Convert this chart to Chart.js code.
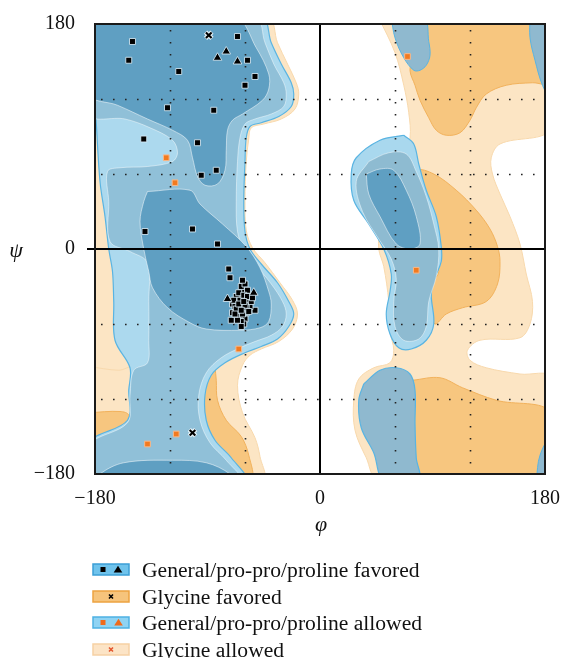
<!DOCTYPE html>
<html><head><meta charset="utf-8">
<script src="https://cdn.jsdelivr.net/npm/chart.js@4.4.1/dist/chart.umd.min.js"></script>
<style>
html,body{margin:0;padding:0;background:#fff;}
#wrap{position:relative;width:565px;height:658px;overflow:hidden;font-family:'Liberation Serif','Times New Roman',serif;color:#111;}
#c{position:absolute;left:0;top:0;}
.axt{position:absolute;font-style:italic;font-size:22px;line-height:1;transform:translate(-50%,-50%);}
.lg{position:absolute;left:0;width:565px;height:26px;}
.lg svg{position:absolute;left:92px;top:6px;}
.lg span{position:absolute;left:142px;top:0;font-size:21.6px;line-height:26px;white-space:nowrap;}
</style></head>
<body>
<div id="wrap">
<canvas id="c" width="565" height="658"></canvas>
<div class="axt" style="left:16px;top:250px;">ψ</div>
<div class="axt" style="left:321px;top:524px;">φ</div>
<div id="legend"></div>
</div>
<script>
// ---------- axes ----------
const axisTicks = [-180, 0, 180];
const dottedGrid = [-120, -60, 60, 120];
const legendLabels = ['General/pro-pro/proline favored', 'Glycine favored', 'General/pro-pro/proline allowed', 'Glycine allowed'];

// ---------- region outlines (phi, psi) ----------
const glyAllowedRight = [[47,185],[60,157],[67,131],[71,109],[72,89],[67,77],[55,46],[48,18],[47,0],[51,-14],[55,-42],[56,-66],[59,-81],[56,-91],[43,-95],[31,-104],[27,-121],[28,-145],[37,-167],[47,-185],[185,-185],[185,-103],[160,-100],[133,-95],[120,-89],[118,-81],[128,-73],[160,-71],[168,-60],[170,-42],[165,-20],[160,4],[152,26],[144,44],[138,60],[137,73],[144,84],[185,97],[185,185]];
const glyAllowedLeft = [[-185,185],[-42,185],[-34,165],[-26,148],[-19,133],[-17,124],[-20,112],[-31,104],[-45,100],[-55,97],[-57,88],[-59,70],[-60,38],[-59,15],[-54,1],[-44,-11],[-32,-27],[-22,-41],[-18,-52],[-22,-64],[-33,-74],[-47,-80],[-56,-85],[-62,-93],[-66,-109],[-62,-131],[-52,-151],[-48,-166],[-46,-185],[-185,-185]];
const glyAllowedLeftEdge = [[-185,-94],[-161,-97],[-150,-95],[-149,-117],[-152,-137],[-185,-141]];
const glyFavoredTopRight = [[83,185],[185,185],[185,133],[170,133],[149,131],[133,124],[125,113],[120,103],[112,93],[101,91],[93,95],[87,105],[80,119],[76,131],[72,143],[75,157],[79,169]];
const glyFavoredMidRight = [[72,50],[77,63],[91,60],[109,47],[125,31],[136,16],[142,2],[144,-10],[142,-28],[133,-42],[114,-47],[101,-52],[92,-60],[88,-47],[89,-28],[95,-18],[87,6],[79,30]];
const glyFavoredBottomRight = [[74,-105],[96,-103],[114,-111],[141,-121],[185,-131],[185,-185],[74,-185],[73,-150]];
const glyFavoredLeftLow = [[-84,-94],[-83,-105],[-82,-121],[-75,-137],[-63,-150],[-57,-165],[-55,-185],[-80,-185],[-82,-165],[-90,-145],[-93,-121],[-90,-104]];
const glyFavoredLeftEdge = [[-185,-131],[-160,-130],[-153,-133],[-153,-153],[-185,-157]];

const genAllowedOuterLeft = [[-185,185],[-47,185],[-39,165],[-31,148],[-23,133],[-21,124],[-23,114],[-33,106],[-47,101],[-56,98],[-59,89],[-60,70],[-61,38],[-60,14],[-56,0],[-47,-12],[-34,-27],[-25,-42],[-21,-52],[-25,-62],[-34,-72],[-47,-78],[-60,-83],[-76,-91],[-87,-101],[-92,-117],[-91,-137],[-84,-153],[-71,-167],[-60,-185],[-185,-185],[-185,-155],[-154,-137],[-153,-113],[-152,-95],[-164,-73],[-165,-42],[-166,-18],[-169,0],[-172,26],[-176,54],[-179,101],[-182,149]];
const genAllowedInnerLeft = [[-185,185],[-52,185],[-44,165],[-37,148],[-29,133],[-27,124],[-29,114],[-39,108],[-52,104],[-60,100],[-64,89],[-66,70],[-67,38],[-66,14],[-61,0],[-52,-12],[-39,-28],[-30,-42],[-27,-52],[-30,-62],[-39,-69],[-52,-74],[-64,-79],[-79,-87],[-91,-99],[-97,-117],[-96,-137],[-88,-155],[-75,-169],[-64,-185],[-185,-185],[-185,-157],[-154,-139],[-152,-117],[-149,-97],[-138,-91],[-137,-73],[-137,-42],[-138,-11],[-152,-2],[-168,6],[-169,38],[-170,62],[-160,65],[-138,66],[-118,70],[-114,77],[-118,87],[-136,97],[-156,104],[-185,108]];
const genFavoredTopLeft = [[-185,185],[-68,185],[-51,161],[-41,140],[-41,128],[-46,119],[-62,108],[-70,103],[-74,95],[-75,79],[-76,63],[-82,52],[-92,51],[-98,58],[-102,73],[-106,87],[-118,95],[-138,104],[-162,115],[-185,124]];
const genFavoredBottomLeft = [[-176,-185],[-176,-180],[-157,-171],[-118,-169],[-91,-171],[-72,-180],[-72,-185]];
const genFavoredAlphaLeft = [[-138,46],[-104,47],[-96,36],[-78,20],[-59,2],[-48,-15],[-41,-34],[-39,-44],[-41,-58],[-48,-63],[-64,-65],[-91,-64],[-104,-59],[-122,-47],[-134,-31],[-137,-18],[-141,0],[-144,22],[-141,38]];

const genAllowedEdgeRightTop = [[168,185],[168,169],[172,151],[178,131],[185,120],[190,150],[190,185]];
const genAllowedEdgeRightBottom = [[173,-185],[176,-165],[185,-150],[190,-170],[190,-185]];
const genAllowedRightTop = [[57,185],[83,185],[87,166],[88,155],[85,147],[80,143],[75,143],[67,153],[60,169]];
const genAllowedRightBottom = [[35,-108],[48,-97],[61,-95],[72,-100],[76,-113],[76,-140],[77,-167],[79,-185],[51,-185],[43,-163],[33,-143],[31,-121]];
const genAllowedRightMid = [[67,91],[75,84],[79,68],[85,47],[93,26],[97,2],[97,-10],[92,-23],[89,-36],[91,-60],[85,-73],[73,-80],[63,-79],[56,-68],[53,-52],[56,-34],[57,-20],[51,0],[39,20],[27,39],[25,60],[29,73],[48,87]];
const genAllowedRightMidInner = [[39,70],[55,77],[69,76],[77,62],[85,42],[91,20],[95,0],[93,-22],[87,-42],[85,-62],[79,-72],[67,-73],[60,-62],[59,-42],[61,-24],[57,-8],[47,8],[34,30],[29,54]];
const genFavoredRightMid = [[37,60],[48,64],[59,63],[69,47],[77,26],[80,4],[72,0],[61,4],[48,26],[39,44]];

// ---------- residues (phi, psi) ----------
const favoredSquares = [[-150,166],[-153,151],[-113,142],[-66,170],[-58,151],[-52,138],[-60,131],[-122,113],[-85,111],[-141,88],[-98,85],[-95,59],[-83,63],[-140,14],[-102,16],[-82,4],
  [-73,-16],[-72,-23],[-70,-44],[-70,-51],[-67,-56],[-52,-49],[-71,-57],
  [-62,-44],[-60,-40],[-64,-46],[-58,-42],[-63,-38],[-66,-42],[-61,-48],[-59,-51],[-65,-50],[-62,-34],[-57,-37],[-68,-46],[-64,-54],[-60,-56],[-56,-46],[-67,-38],[-63,-30],[-60,-28],[-58,-33],[-65,-35],[-69,-41],[-61,-60],[-63,-58],[-66,-57],[-55,-42],[-62,-52],[-59,-47],[-64,-41],[-61,-37],[-67,-48],[-57,-50],[-63,-62],[-60,-45],[-65,-44],[-58,-38],[-62,-25],[-54,-39],[-68,-52],[-61,-42],[-63,-49]];
const favoredTriangles = [[-75,158],[-82,153],[-66,150],[-53,-35],[-74,-40]];
const glycineFavoredX = [[-89,171],[-102,-147]];
const allowedSquares = [[-123,73],[-116,53],[-65,-80],[-115,-148],[-138,-156],[70,154],[77,-17]];

// ---------- build ----------
const toXY = pts => pts.concat([pts[0]]).map(p => ({x: p[0], y: p[1]}));
let ord = 100;
function region(pts, fillColor, lineColor, lineWidth, extra) {
  return Object.assign({
    data: toXY(pts), showLine: true, fill: 'shape',
    backgroundColor: fillColor, borderColor: lineColor, borderWidth: lineWidth,
    pointRadius: 0, pointHoverRadius: 0, tension: 0.35, order: ord--
  }, extra || {});
}
function marks(pts, style, radius, bg, border, bw, order) {
  return { data: pts.map(p => ({x: p[0], y: p[1]})), showLine: false, pointStyle: style,
    pointRadius: radius, pointHoverRadius: radius, backgroundColor: bg, borderColor: border,
    pointBorderWidth: bw, borderWidth: bw, order: order };
}
const LO = '#fce5c4', OR = '#f7c67f';
const BG = '#8fb9cf', EDGE = '#5ab4e2';
const datasets = [
  region(glyAllowedRight, LO, '#f8d9ad', 1),
  region(glyAllowedLeft, LO, '#f8d9ad', 1),
  region(glyAllowedLeftEdge, LO, '#f8d9ad', 1),
  region(glyFavoredTopRight, OR, '#f2b25c', 1),
  region(glyFavoredMidRight, OR, '#f2b25c', 1),
  region(glyFavoredBottomRight, OR, '#f2b25c', 1),
  region(glyFavoredLeftLow, OR, '#f2b25c', 1),
  region(glyFavoredLeftEdge, OR, '#f2b25c', 1),
  region(genAllowedOuterLeft, '#acd9ee', EDGE, 1.2),
  region(genAllowedInnerLeft, '#90c0d8', 'rgba(255,255,255,0.45)', 1),
  region(genFavoredTopLeft, '#5f9fc2', 'rgba(255,255,255,0.5)', 1),
  region(genFavoredBottomLeft, '#5f9fc2', 'rgba(255,255,255,0.5)', 1),
  region(genFavoredAlphaLeft, '#5f9fc2', 'rgba(255,255,255,0.5)', 1),
  region(genAllowedEdgeRightTop, BG, EDGE, 1),
  region(genAllowedEdgeRightBottom, BG, EDGE, 1),
  region(genAllowedRightTop, BG, EDGE, 1),
  region(genAllowedRightBottom, BG, EDGE, 1.2),
  region(genAllowedRightMid, '#a9d8ee', EDGE, 1.2),
  region(genAllowedRightMidInner, '#8ebbd1', 'rgba(255,255,255,0.45)', 1),
  region(genFavoredRightMid, '#5f9fc2', 'rgba(255,255,255,0.5)', 1, {gridAfter: true}),
  marks(allowedSquares, 'rect', 4, '#f27a1f', '#f9b888', 1, 5),
  marks(favoredSquares, 'rect', 4.2, '#000', 'rgba(215,236,248,0.85)', 1, 4),
  marks(favoredTriangles, 'triangle', 5, '#000', 'rgba(215,236,248,0.85)', 1, 3),
  marks(glycineFavoredX, 'crossRot', 4.5, '#fff', 'rgba(235,245,250,0.95)', 4.5, 2),
  marks(glycineFavoredX, 'crossRot', 4, '#000', '#000', 2, 1)
];

function drawGrid(chart) {
  const {ctx, chartArea: a, scales: {x, y}} = chart;
  ctx.save();
  ctx.strokeStyle = '#222';
  ctx.lineWidth = 1.6;
  ctx.setLineDash([1.6, 10.4]);
  dottedGrid.forEach(v => {
    const px = Math.round(x.getPixelForValue(v)) + 0.5;
    ctx.beginPath(); ctx.moveTo(px, a.top + 6); ctx.lineTo(px, a.bottom); ctx.stroke();
    const py = Math.round(y.getPixelForValue(v)) + 0.5;
    ctx.beginPath(); ctx.moveTo(a.left + 6, py); ctx.lineTo(a.right, py); ctx.stroke();
  });
  ctx.setLineDash([]);
  ctx.strokeStyle = '#000';
  ctx.lineWidth = 2;
  const x0 = x.getPixelForValue(0), y0 = y.getPixelForValue(0);
  ctx.beginPath(); ctx.moveTo(x0, a.top); ctx.lineTo(x0, a.bottom); ctx.stroke();
  ctx.beginPath(); ctx.moveTo(a.left - 8, y0); ctx.lineTo(a.right, y0); ctx.stroke();
  ctx.restore();
}
const ramaPlugin = {
  id: 'rama',
  afterDatasetDraw(chart, args) {
    if (chart.data.datasets[args.index].gridAfter) drawGrid(chart);
  },
  afterDraw(chart) {
    const {ctx, chartArea: a} = chart;
    ctx.save();
    ctx.strokeStyle = '#1a1a1a';
    ctx.lineWidth = 2;
    ctx.strokeRect(a.left, a.top, a.right - a.left, a.bottom - a.top);
    ctx.restore();
  }
};

const fmt = v => v < 0 ? '\u2212' + Math.abs(v) : String(v);
const tickFont = {family: "'Liberation Serif', 'Times New Roman', serif", size: 20};
new Chart(document.getElementById('c'), {
  type: 'scatter',
  data: {datasets},
  plugins: [ramaPlugin],
  options: {
    responsive: false, animation: false, devicePixelRatio: 1, events: [],
    layout: {padding: {left: 0, top: 21, right: 17, bottom: 144}},
    plugins: {legend: {display: false}, tooltip: {enabled: false}},
    scales: {
      x: {type: 'linear', min: -180, max: 180,
        afterBuildTicks: s => { s.ticks = axisTicks.map(v => ({value: v})); },
        afterFit: s => { s.height = 40; },
        grid: {display: false}, border: {display: false},
        ticks: {font: tickFont, color: '#111', padding: 5, maxRotation: 0, callback: fmt}},
      y: {type: 'linear', min: -180, max: 180,
        afterBuildTicks: s => { s.ticks = axisTicks.map(v => ({value: v})); },
        afterFit: s => { s.width = 95; },
        grid: {display: false}, border: {display: false},
        ticks: {font: tickFont, color: '#111', padding: 12, callback: fmt}}
    }
  }
});

// ---------- legend ----------
const swatches = [
  '<rect x="1" y="1" width="36" height="11" fill="#6fc3ec" stroke="#3b9fd6" stroke-width="1.5"/><rect x="8.5" y="4" width="5" height="5" fill="#000"/><polygon points="26,2.8 30.3,9.6 21.7,9.6" fill="#000"/>',
  '<rect x="1" y="1" width="36" height="11" fill="#f6c47c" stroke="#eda340" stroke-width="1.5"/><path d="M17 4.5 L21 8.5 M21 4.5 L17 8.5" stroke="#000" stroke-width="1.6"/>',
  '<rect x="1" y="1" width="36" height="11" fill="#8fd3f3" stroke="#4db1e3" stroke-width="1.5"/><rect x="8.5" y="4" width="5" height="5" fill="#ef6a1c"/><polygon points="26.5,2.8 30.8,9.6 22.2,9.6" fill="#ef6a1c"/>',
  '<rect x="1" y="1" width="36" height="11" fill="#fce4c6" stroke="#f6d1a4" stroke-width="1.5"/><path d="M17 4.5 L21 8.5 M21 4.5 L17 8.5" stroke="#e4572e" stroke-width="1.6"/>'
];
const rowCenters = [570, 597, 623, 650];
const lg = document.getElementById('legend');
legendLabels.forEach((t, i) => {
  const d = document.createElement('div');
  d.className = 'lg';
  d.style.top = (rowCenters[i] - 13) + 'px';
  d.innerHTML = '<svg width="40" height="14">' + swatches[i] + '</svg><span></span>';
  d.querySelector('span').textContent = t;
  lg.appendChild(d);
});
</script>
</body></html>
